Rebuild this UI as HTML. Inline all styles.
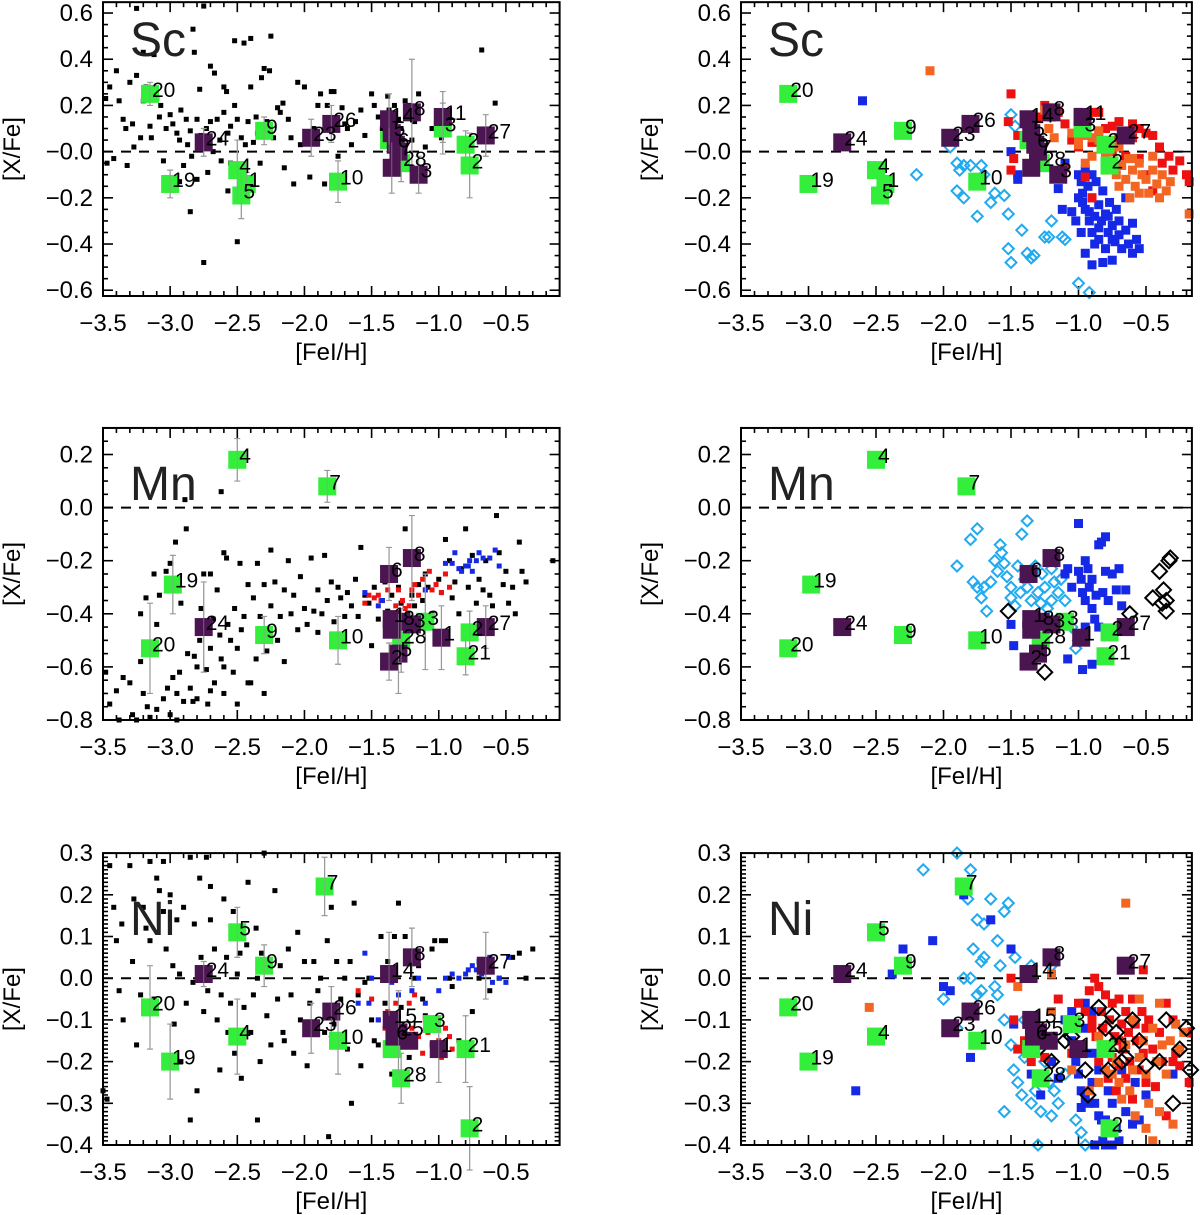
<!DOCTYPE html>
<html><head><meta charset="utf-8">
<style>
html,body{margin:0;padding:0;background:#fff;}
svg{display:block;font-family:"Liberation Sans",sans-serif;}
</style></head>
<body>
<svg id="fig" width="1200" height="1215" viewBox="0 0 1200 1215" xmlns="http://www.w3.org/2000/svg"></svg>
<script>
// ---------------- DATA ----------------
// Program stars: [label, [Fe/H], [X/Fe], type(g=green,p=purple), error]
const scStars=[["20",-3.15,0.25,"g",0.05],["19",-3.0,-0.14,"g",0.06],["4",-2.5,-0.08,"g",0.13],["1",-2.43,-0.14,"g",0.05],["5",-2.47,-0.19,"g",0.1],["9",-2.3,0.09,"g",0.06],["10",-1.75,-0.13,"g",0.09],["",-1.37,0.05,"g",0.05],["28",-1.28,-0.05,"g",0.08],["3",-0.97,0.1,"g",0.11],["2",-0.8,0.03,"g",0.06],["2",-0.77,-0.06,"g",0.14],
["24",-2.75,0.04,"p",0.06],["23",-1.95,0.06,"p",0.08],["26",-1.8,0.12,"p",0.08],["14",-1.37,0.14,"p",0.11],["5",-1.35,0.08,"p",0],["6",-1.32,0.03,"p",0],["7",-1.3,0.0,"p",0],["",-1.35,-0.07,"p",0.11],["8",-1.2,0.17,"p",0.23],["3",-1.15,-0.1,"p",0.08],["11",-0.97,0.15,"p",0.11],["27",-0.65,0.07,"p",0.09]];
const mnStars=[["4",-2.5,0.18,"g",0.08],["7",-1.83,0.08,"g",0.06],["19",-2.98,-0.29,"g",0.11],["20",-3.15,-0.53,"g",0.17],["9",-2.3,-0.48,"g",0.07],["10",-1.75,-0.5,"g",0.09],["28",-1.28,-0.5,"g",0.12],["3",-1.1,-0.43,"g",0.18],["21",-0.8,-0.56,"g",0.07],["2",-0.77,-0.47,"g",0.08],
["24",-2.75,-0.45,"p",0.17],["6",-1.37,-0.25,"p",0.1],["8",-1.2,-0.19,"p",0.16],["1",-1.35,-0.42,"p",0],["8",-1.28,-0.43,"p",0],["3",-1.2,-0.44,"p",0],["",-1.35,-0.46,"p",0],["5",-1.3,-0.55,"p",0.15],["2",-1.37,-0.58,"p",0.07],["1",-0.98,-0.49,"p",0.12],["27",-0.65,-0.45,"p",0.08]];
const niStars=[["7",-1.85,0.22,"g",0.07],["5",-2.5,0.11,"g",0.06],["9",-2.3,0.03,"g",0.05],["20",-3.15,-0.07,"g",0.1],["19",-3.0,-0.2,"g",0.09],["4",-2.5,-0.14,"g",0.09],["10",-1.75,-0.15,"g",0.08],["28",-1.28,-0.24,"g",0.06],["2",-0.77,-0.36,"g",0.1],["21",-0.8,-0.17,"g",0.08],["3",-1.05,-0.11,"g",0],["",-1.35,-0.17,"g",0],
["24",-2.75,0.01,"p",0.03],["23",-1.95,-0.12,"p",0.06],["26",-1.8,-0.08,"p",0.06],["8",-1.2,0.05,"p",0.07],["14",-1.37,0.01,"p",0.1],["15",-1.35,-0.1,"p",0],["25",-1.3,-0.13,"p",0.1],["6",-1.33,-0.14,"p",0],["",-1.22,-0.15,"p",0],["1",-1.0,-0.17,"p",0.08],["27",-0.65,0.03,"p",0.08]];

// Literature field stars (left panels, black dots)
const scField=[[-3.45,0.28],[-3.42,-0.03],[-3.4,0.35],[-3.38,0.22],[-3.35,0.14],[-3.33,0.1],[-3.32,-0.06],[-3.3,0.3],[-3.28,0.12],[-3.27,0.02],[-3.25,0.33],[-3.22,0.06],[-3.2,0.22],[-3.2,0.43],[-3.18,0.28],[-3.15,0.11],[-3.14,0.06],[-3.12,0.42],[-3.1,0.23],[-3.08,0.15],[-3.07,0.2],[-3.05,-0.04],[-3.03,0.1],[-3.0,0.16],[-2.98,0.12],[-2.95,0.08],[-2.93,0.05],[-2.92,0.18],[-2.9,-0.06],[-2.88,0.14],[-2.87,0.03],[-2.85,0.09],[-2.84,-0.02],[-2.83,0.53],[-2.82,0.43],[-2.8,0.14],[-2.8,-0.12],[-2.78,0.27],[-2.77,0.07],[-2.73,0.1],[-2.72,-0.09],[-2.7,0.37],[-2.7,0.13],[-2.68,0.0],[-2.67,0.34],[-2.65,0.14],[-2.63,0.05],[-2.62,-0.04],[-2.6,0.17],[-2.6,0.28],[-2.58,0.26],[-2.57,0.08],[-2.55,0.11],[-2.55,-0.05],[-2.52,0.48],[-2.52,0.2],[-2.5,0.14],[-2.47,0.06],[-2.45,0.47],[-2.44,0.03],[-2.42,0.13],[-2.4,0.49],[-2.4,0.28],[-2.38,0.04],[-2.36,0.15],[-2.35,0.08],[-2.33,-0.05],[-2.32,0.32],[-2.3,0.36],[-2.28,0.13],[-2.26,0.35],[-2.25,0.5],[-2.23,0.06],[-2.2,0.19],[-2.18,0.17],[-2.16,0.21],[-2.15,-0.07],[-2.12,0.14],[-2.1,0.06],[-2.08,-0.14],[-2.05,0.3],[-2.03,0.03],[-2.0,0.28],[-1.98,0.08],[-1.96,-0.11],[-1.93,0.1],[-1.9,0.2],[-1.88,0.25],[-1.85,-0.14],[-1.83,0.2],[-1.8,0.26],[-1.78,0.26],[-1.75,-0.02],[-1.72,0.19],[-1.7,0.12],[-1.68,0.1],[-1.65,0.03],[-1.62,0.13],[-1.58,0.18],[-1.55,0.07],[-1.5,0.25],[-1.48,0.2],[-1.45,0.15],[-1.42,0.1],[-1.4,0.06],[-1.38,0.24],[-1.37,0.18],[-1.33,0.2],[-1.3,0.14],[-1.28,0.1],[-1.25,0.22],[-1.22,0.2],[-1.2,0.05],[-1.18,0.13],[-1.15,0.25],[-1.1,0.02],[-1.05,0.1],[-0.98,0.06],[-0.68,0.44],[-0.58,0.21],[-2.85,-0.26],[-2.75,-0.48],[-2.5,-0.39],[-2.57,-0.17],[-2.93,-0.13],[-3.48,0.23],[-3.47,-0.05],[-3.25,0.62],[-2.75,0.63]];
const mnField=[[-3.48,-0.62],[-3.45,-0.74],[-3.4,-0.69],[-3.38,-0.8],[-3.35,-0.64],[-3.3,-0.66],[-3.28,-0.78],[-3.22,-0.4],[-3.22,-0.58],[-3.2,-0.7],[-3.18,-0.34],[-3.17,-0.75],[-3.15,-0.79],[-3.12,-0.25],[-3.1,-0.44],[-3.1,-0.76],[-3.08,-0.33],[-3.05,-0.72],[-3.03,-0.24],[-3.02,-0.68],[-3.0,-0.21],[-3.0,-0.78],[-2.98,-0.64],[-2.96,-0.13],[-2.95,-0.7],[-2.93,-0.62],[-2.92,-0.36],[-2.9,-0.73],[-2.88,-0.08],[-2.87,-0.55],[-2.85,-0.68],[-2.83,-0.73],[-2.82,-0.56],[-2.8,-0.6],[-2.78,-0.5],[-2.77,-0.38],[-2.75,-0.25],[-2.73,-0.61],[-2.72,-0.74],[-2.7,-0.53],[-2.7,-0.25],[-2.68,-0.42],[-2.67,-0.66],[-2.65,-0.31],[-2.63,-0.48],[-2.62,-0.57],[-2.6,-0.17],[-2.6,-0.7],[-2.58,-0.19],[-2.57,-0.44],[-2.55,-0.5],[-2.53,-0.62],[-2.52,-0.38],[-2.5,-0.53],[-2.48,-0.21],[-2.47,-0.46],[-2.45,-0.41],[-2.42,-0.29],[-2.4,-0.66],[-2.38,-0.34],[-2.36,-0.57],[-2.35,-0.21],[-2.33,-0.41],[-2.3,-0.7],[-2.3,-0.29],[-2.28,-0.54],[-2.25,-0.16],[-2.25,-0.37],[-2.22,-0.28],[-2.2,-0.5],[-2.18,-0.41],[-2.15,-0.31],[-2.15,-0.58],[-2.12,-0.2],[-2.1,-0.4],[-2.08,-0.33],[-2.05,-0.46],[-2.03,-0.26],[-2.0,-0.38],[-1.98,-0.44],[-1.95,-0.19],[-1.93,-0.39],[-1.9,-0.31],[-1.9,-0.47],[-1.87,-0.4],[-1.85,-0.18],[-1.83,-0.35],[-1.8,-0.28],[-1.78,-0.43],[-1.75,-0.3],[-1.73,-0.34],[-1.7,-0.41],[-1.68,-0.32],[-1.65,-0.37],[-1.62,-0.27],[-1.6,-0.41],[-1.58,-0.15],[-1.55,-0.33],[-1.52,-0.36],[-1.5,-0.52],[-1.48,-0.3],[-1.45,-0.42],[-1.42,-0.35],[-1.4,-0.28],[-1.38,-0.39],[-1.35,-0.33],[-1.33,-0.44],[-1.3,-0.3],[-1.28,-0.36],[-1.25,-0.08],[-1.23,-0.4],[-1.2,-0.33],[-1.18,-0.37],[-1.15,-0.29],[-1.12,-0.35],[-1.1,-0.25],[-1.08,-0.3],[-1.05,-0.4],[-1.0,-0.27],[-0.98,-0.32],[-0.95,-0.12],[-0.92,-0.2],[-0.9,-0.34],[-0.88,-0.28],[-0.85,-0.4],[-0.83,-0.23],[-0.8,-0.08],[-0.78,-0.3],[-0.75,-0.18],[-0.72,-0.36],[-0.7,-0.27],[-0.67,-0.31],[-0.65,-0.2],[-0.62,-0.33],[-0.6,-0.37],[-0.57,-0.03],[-0.55,-0.17],[-0.52,-0.29],[-0.5,-0.24],[-0.48,-0.36],[-0.45,-0.3],[-0.43,-0.4],[-0.4,-0.13],[-0.38,-0.24],[-0.35,-0.28],[-0.15,-0.2],[-2.89,0.03],[-2.62,0.06],[-3.25,-0.8],[-2.95,-0.8],[-2.5,-0.74],[-2.42,-0.66],[-2.6,-0.6],[-2.7,-0.69],[-2.8,-0.72]];
const niField=[[-3.45,0.27],[-3.42,0.17],[-3.4,0.09],[-3.38,-0.03],[-3.36,0.13],[-3.35,-0.1],[-3.3,0.27],[-3.28,0.04],[-3.27,0.19],[-3.25,-0.16],[-3.22,-0.04],[-3.2,0.17],[-3.18,0.12],[-3.15,0.09],[-3.12,-0.05],[-3.1,0.24],[-3.08,0.21],[-3.05,0.16],[-3.03,0.07],[-3.0,0.2],[-2.98,0.03],[-2.97,-0.11],[-2.95,0.14],[-2.93,0.01],[-2.92,-0.2],[-2.9,0.17],[-2.88,-0.06],[-2.85,0.29],[-2.83,-0.01],[-2.82,0.13],[-2.8,-0.27],[-2.78,0.24],[-2.77,0.05],[-2.75,-0.08],[-2.73,0.29],[-2.72,-0.03],[-2.7,0.22],[-2.7,0.14],[-2.67,0.07],[-2.65,-0.1],[-2.63,-0.22],[-2.62,-0.04],[-2.6,0.19],[-2.58,0.05],[-2.57,-0.13],[-2.55,-0.06],[-2.53,0.16],[-2.52,-0.18],[-2.5,0.01],[-2.48,0.06],[-2.47,-0.24],[-2.45,-0.07],[-2.43,0.08],[-2.42,0.23],[-2.4,-0.13],[-2.38,-0.04],[-2.36,0.12],[-2.35,0.0],[-2.33,-0.2],[-2.32,0.06],[-2.3,0.3],[-2.28,-0.09],[-2.26,0.04],[-2.25,-0.16],[-2.22,0.21],[-2.2,-0.05],[-2.18,0.03],[-2.16,-0.13],[-2.15,-0.15],[-2.12,0.07],[-2.1,-0.04],[-2.08,-0.18],[-2.05,0.11],[-2.03,-0.1],[-2.0,0.04],[-1.98,-0.21],[-1.96,-0.06],[-1.93,0.04],[-1.9,-0.03],[-1.88,0.0],[-1.85,-0.13],[-1.83,0.09],[-1.8,0.17],[-1.78,-0.11],[-1.76,0.04],[-1.73,-0.05],[-1.7,0.0],[-1.68,-0.17],[-1.66,0.04],[-1.63,0.18],[-1.6,-0.04],[-1.58,-0.21],[-1.55,-0.01],[-1.52,0.0],[-1.5,-0.1],[-1.48,-0.15],[-1.45,-0.16],[-1.43,0.1],[-1.4,-0.06],[-1.38,0.04],[-1.35,-0.23],[-1.33,0.1],[-1.3,0.18],[-1.28,-0.07],[-1.25,0.1],[-1.22,-0.19],[-1.2,0.05],[-1.18,0.0],[-1.15,0.03],[-1.12,-0.05],[-1.1,-0.09],[-1.05,0.07],[-1.03,0.09],[-0.98,0.09],[-0.95,0.09],[-0.92,0.0],[-0.9,-0.02],[-0.85,-0.15],[-0.8,-0.16],[-0.75,-0.08],[-0.7,0.0],[-0.62,-0.03],[-0.55,0.0],[-0.45,0.05],[-0.4,0.06],[-0.35,0.0],[-0.3,0.07],[-2.35,-0.34],[-2.05,-0.42],[-1.65,-0.3],[-1.82,-0.38],[-3.5,-0.27],[-3.47,-0.29],[-2.85,-0.34],[-3.15,0.28],[-3.05,0.28]];
const mnFieldRed=[[-1.55,-0.36],[-1.52,-0.33],[-1.48,-0.34],[-1.45,-0.33],[-1.43,-0.35],[-1.38,-0.31],[-1.35,-0.24],[-1.3,-0.31],[-1.27,-0.35],[-1.25,-0.38],[-1.2,-0.31],[-1.18,-0.29],[-1.15,-0.33],[-1.12,-0.27],[-1.1,-0.31],[-1.07,-0.24],[-1.05,-0.31],[-1.02,-0.29],[-0.98,-0.32],[-0.95,-0.25],[-0.92,-0.3],[-1.22,-0.37],[-1.32,-0.37]];
const mnFieldBlue=[[-1.55,-0.32],[-1.45,-0.37],[-1.42,-0.35],[-1.1,-0.31],[-0.95,-0.21],[-0.9,-0.21],[-0.85,-0.23],[-0.83,-0.24],[-0.8,-0.22],[-0.77,-0.2],[-0.75,-0.24],[-0.72,-0.2],[-0.7,-0.17],[-0.67,-0.19],[-0.62,-0.19],[-0.58,-0.16],[-0.55,-0.22],[-0.88,-0.17],[-0.78,-0.22]];
const niFieldRed=[[-1.6,-0.03],[-1.5,-0.05],[-1.45,-0.1],[-1.4,-0.12],[-1.38,-0.08],[-1.32,-0.06],[-1.28,-0.13],[-1.25,-0.16],[-1.2,-0.12],[-1.18,-0.04],[-1.15,-0.14],[-1.12,-0.18],[-1.1,-0.1],[-1.08,-0.13],[-1.05,-0.16],[-1.0,-0.15],[-0.98,-0.19],[-0.95,-0.12],[-0.92,-0.14],[-0.9,-0.17],[-1.3,-0.09],[-1.22,-0.06]];
const niFieldBlue=[[-1.55,0.06],[-1.5,0.0],[-1.35,-0.01],[-1.3,-0.04],[-1.2,-0.03],[-1.15,0.0],[-1.1,-0.06],[-1.0,-0.03],[-0.95,0.0],[-0.9,0.01],[-0.85,0.0],[-0.8,0.01],[-0.78,0.02],[-0.75,0.03],[-0.72,0.02],[-0.7,0.04],[-0.68,0.01],[-0.65,0.03],[-0.6,-0.01],[-0.55,0.0],[-0.5,-0.01],[-0.48,0.05],[-0.62,0.05],[-1.52,-0.06],[-1.6,-0.06],[-1.45,-0.1]];

// Comparison samples (right panels)
const scRed=[[-1.5,0.25],[-1.52,0.13],[-1.45,0.07],[-1.48,-0.03],[-1.5,-0.08],[-1.3,0.15],[-1.25,0.2],[-1.2,0.15],[-1.15,0.17],[-1.1,0.12],[-1.05,0.05],[-1.0,0.17],[-0.95,0.12],[-0.9,0.17],[-0.85,0.17],[-0.9,0.04],[-0.85,0.08],[-0.8,0.03],[-0.75,0.0],[-0.7,0.13],[-0.65,0.08],[-0.6,0.06],[-0.55,0.1],[-0.5,0.08],[-0.45,0.07],[-0.4,0.02],[-0.38,-0.05],[-0.33,-0.02],[-0.3,-0.08],[-0.25,-0.04],[-0.2,-0.1],[-0.18,-0.13],[-0.5,-0.1],[-0.45,-0.17],[-0.55,-0.03],[-0.65,-0.02],[-0.7,0.06],[-0.6,0.12],[-0.95,-0.11],[-0.9,-0.2],[-1.1,-0.07],[-1.0,0.02],[-0.75,0.11],[-0.8,0.1]];
const scOrange=[[-2.1,0.35],[-1.25,0.18],[-1.22,0.1],[-1.18,0.06],[-1.05,0.08],[-1.0,0.03],[-0.95,-0.05],[-0.9,-0.02],[-0.85,0.05],[-0.8,-0.02],[-0.8,-0.08],[-0.75,-0.05],[-0.72,-0.1],[-0.7,0.02],[-0.68,-0.06],[-0.65,-0.12],[-0.63,-0.03],[-0.6,-0.08],[-0.58,-0.15],[-0.55,-0.05],[-0.53,-0.1],[-0.5,-0.12],[-0.48,-0.18],[-0.45,-0.08],[-0.42,-0.14],[-0.4,-0.2],[-0.38,-0.1],[-0.35,-0.17],[-0.32,-0.13],[-0.7,-0.15],[-0.62,-0.2],[-0.55,-0.18],[-0.9,0.06],[-0.85,0.09],[-1.0,0.05],[-0.95,0.07],[-0.18,-0.27],[-0.45,-0.02],[-0.6,-0.03],[-0.78,0.0]];
const scBlue=[[-2.6,0.22],[-1.5,0.0],[-1.45,-0.1],[-1.45,-0.12],[-1.15,-0.16],[-1.1,-0.05],[-1.12,-0.25],[-1.0,-0.1],[-0.98,-0.13],[-0.97,-0.18],[-0.97,-0.22],[-0.95,-0.08],[-0.95,-0.25],[-0.93,-0.15],[-0.92,-0.3],[-0.9,-0.1],[-0.9,-0.2],[-0.9,-0.35],[-0.88,-0.28],[-0.87,-0.13],[-0.85,-0.23],[-0.85,-0.38],[-0.83,-0.3],[-0.82,-0.17],[-0.8,-0.42],[-0.8,-0.27],[-0.78,-0.35],[-0.77,-0.22],[-0.75,-0.32],[-0.75,-0.47],[-0.73,-0.39],[-0.72,-0.25],[-0.7,-0.36],[-0.7,-0.3],[-0.68,-0.42],[-0.65,-0.34],[-0.63,-0.4],[-0.6,-0.31],[-0.6,-0.44],[-0.57,-0.38],[-0.55,-0.42],[-0.65,-0.2],[-0.95,-0.44],[-0.9,-0.49],[-0.85,-0.33],[-0.82,-0.48],[-0.98,-0.35],[-1.02,-0.3],[-1.05,-0.26],[-0.88,-0.4],[-0.75,-0.38],[-1.0,-0.2],[-0.92,-0.26],[-0.78,-0.28]];
const scCyan=[[-2.2,-0.1],[-1.95,0.02],[-1.9,-0.05],[-1.88,-0.08],[-1.85,-0.06],[-1.8,-0.06],[-1.72,-0.06],[-1.9,-0.17],[-1.85,-0.2],[-1.75,-0.28],[-1.65,-0.22],[-1.55,-0.19],[-1.52,-0.27],[-1.52,-0.42],[-1.5,-0.48],[-1.42,-0.34],[-1.38,-0.44],[-1.35,-0.46],[-1.33,-0.45],[-1.25,-0.37],[-1.22,-0.37],[-1.2,-0.3],[-1.12,-0.37],[-1.1,-0.38],[-1.0,-0.57],[-0.92,-0.61],[-0.85,-0.67],[-1.5,0.16],[-1.47,0.11],[-1.62,-0.18],[-1.7,-0.1]];
const mnCyan=[[-1.9,-0.22],[-1.8,-0.12],[-1.75,-0.08],[-1.78,-0.28],[-1.75,-0.3],[-1.72,-0.34],[-1.7,-0.3],[-1.68,-0.39],[-1.65,-0.28],[-1.62,-0.2],[-1.6,-0.24],[-1.58,-0.14],[-1.57,-0.17],[-1.55,-0.21],[-1.53,-0.26],[-1.5,-0.3],[-1.5,-0.34],[-1.47,-0.37],[-1.45,-0.22],[-1.43,-0.32],[-1.42,-0.1],[-1.4,-0.27],[-1.38,-0.05],[-1.38,-0.3],[-1.35,-0.35],[-1.33,-0.24],[-1.32,-0.22],[-1.3,-0.32],[-1.28,-0.36],[-1.27,-0.25],[-1.25,-0.3],[-1.23,-0.38],[-1.2,-0.23],[-1.2,-0.35],[-1.18,-0.28],[-1.15,-0.32],[-1.13,-0.27],[-1.1,-0.35],[-1.05,-0.45],[-1.02,-0.53],[-1.0,-0.5]];
const mnBlue=[[-1.5,-0.44],[-1.48,-0.52],[-1.1,-0.25],[-1.08,-0.23],[-1.05,-0.3],[-1.0,-0.06],[-1.0,-0.24],[-0.98,-0.27],[-0.97,-0.32],[-0.95,-0.2],[-0.95,-0.35],[-0.93,-0.23],[-0.92,-0.3],[-0.9,-0.38],[-0.9,-0.27],[-0.88,-0.42],[-0.87,-0.33],[-0.85,-0.14],[-0.83,-0.13],[-0.82,-0.32],[-0.8,-0.11],[-0.8,-0.24],[-0.78,-0.35],[-0.75,-0.25],[-0.72,-0.31],[-0.7,-0.23],[-0.68,-0.37],[-0.65,-0.31],[-1.08,-0.57],[-0.97,-0.61],[-0.9,-0.59],[-0.85,-0.45],[-0.95,-0.45]];
const mnBlack=[[-1.52,-0.39],[-1.25,-0.62],[-0.62,-0.4],[-0.45,-0.34],[-0.4,-0.24],[-0.38,-0.36],[-0.37,-0.31],[-0.35,-0.35],[-0.33,-0.2],[-0.32,-0.19],[-0.35,-0.39],[-0.1,-0.28]];
const niCyan=[[-2.15,0.26],[-1.9,0.3],[-1.8,0.26],[-1.82,0.19],[-1.65,0.19],[-1.75,0.14],[-1.7,0.13],[-1.52,0.18],[-1.55,0.16],[-1.6,0.09],[-1.78,0.07],[-1.7,0.05],[-1.72,0.04],[-1.85,0.0],[-1.8,-0.0],[-1.58,0.03],[-1.47,0.05],[-1.35,0.03],[-1.2,0.03],[-1.72,-0.03],[-1.62,-0.02],[-1.6,-0.04],[-2.0,-0.05],[-1.9,-0.12],[-1.55,-0.1],[-1.5,-0.16],[-1.48,-0.22],[-1.45,-0.25],[-1.42,-0.28],[-1.4,-0.19],[-1.35,-0.3],[-1.32,-0.27],[-1.28,-0.32],[-1.25,-0.2],[-1.22,-0.25],[-1.2,-0.33],[-1.18,-0.27],[-1.15,-0.3],[-1.1,-0.23],[-1.02,-0.34],[-0.98,-0.37],[-0.95,-0.4],[-1.3,-0.4],[-1.55,-0.32],[-1.4,-0.1],[-1.75,-0.04]];
const niBlue=[[-2.65,-0.27],[-2.38,0.01],[-2.3,0.07],[-2.08,0.09],[-1.95,-0.03],[-1.85,0.2],[-1.5,0.07],[-1.8,-0.19],[-1.65,0.14],[-2.0,-0.02],[-1.48,-0.11],[-1.35,-0.23],[-1.28,-0.28],[-1.2,-0.2],[-1.1,-0.1],[-1.05,-0.15],[-1.02,-0.2],[-1.0,-0.23],[-0.98,-0.27],[-0.95,-0.12],[-0.95,-0.29],[-0.92,-0.3],[-0.9,-0.18],[-0.9,-0.25],[-0.88,-0.3],[-0.85,-0.33],[-0.85,-0.22],[-0.83,-0.34],[-0.8,-0.34],[-0.78,-0.27],[-0.75,-0.3],[-0.72,-0.36],[-0.7,-0.39],[-0.68,-0.22],[-0.65,-0.32],[-0.6,-0.35],[-0.58,-0.25],[-0.55,-0.34],[-0.5,-0.28],[-0.3,-0.23],[-0.82,-0.39],[-0.88,-0.4],[-1.05,-0.08],[-0.95,-0.06],[-0.9,-0.08],[-1.25,-0.16],[-1.15,-0.24],[-0.98,-0.31],[-0.75,-0.4],[-0.8,-0.4]];
const niRed=[[-1.5,0.0],[-1.48,-0.1],[-1.4,-0.15],[-1.45,-0.17],[-1.35,-0.2],[-1.25,-0.19],[-1.15,-0.05],[-1.05,-0.18],[-1.0,-0.06],[-0.95,-0.08],[-0.92,-0.03],[-0.9,-0.1],[-0.88,0.0],[-0.87,-0.14],[-0.85,-0.2],[-0.83,-0.08],[-0.82,-0.12],[-0.8,-0.04],[-0.8,-0.16],[-0.78,-0.24],[-0.77,-0.1],[-0.75,-0.06],[-0.75,-0.19],[-0.73,-0.14],[-0.72,-0.27],[-0.7,-0.05],[-0.7,-0.21],[-0.68,-0.11],[-0.67,-0.17],[-0.65,-0.08],[-0.65,-0.24],[-0.63,-0.13],[-0.62,-0.2],[-0.6,-0.05],[-0.6,-0.29],[-0.58,-0.11],[-0.57,-0.15],[-0.55,-0.22],[-0.53,-0.08],[-0.52,-0.18],[-0.5,-0.12],[-0.5,-0.25],[-0.48,-0.1],[-0.45,-0.17],[-0.43,-0.26],[-0.4,-0.13],[-0.38,-0.2],[-0.35,-0.06],[-0.35,-0.33],[-0.3,-0.1],[-0.28,-0.18],[-0.25,-0.21],[-0.2,-0.13],[-0.18,-0.25],[-0.3,-0.2],[-0.52,0.02],[-0.9,-0.12],[-0.85,-0.02],[-0.7,-0.15]];
const niOrange=[[-1.45,-0.02],[-1.2,0.01],[-0.65,0.18],[-1.2,-0.08],[-1.05,-0.22],[-0.92,-0.27],[-0.85,-0.25],[-0.8,-0.22],[-0.78,-0.17],[-0.75,-0.23],[-0.72,-0.2],[-0.7,-0.25],[-0.68,-0.29],[-0.65,-0.16],[-0.62,-0.27],[-0.6,-0.22],[-0.58,-0.33],[-0.55,-0.19],[-0.52,-0.15],[-0.5,-0.23],[-0.48,-0.3],[-0.45,-0.12],[-0.42,-0.2],[-0.4,-0.32],[-0.38,-0.16],[-0.35,-0.23],[-0.32,-0.15],[-0.28,-0.11],[-0.25,-0.17],[-0.22,-0.13],[-0.5,-0.36],[-0.3,-0.35],[-0.45,-0.39],[-0.85,-0.14],[-0.6,-0.1],[-0.55,-0.05],[-2.55,-0.07],[-0.4,-0.06]];
const niBlack=[[-1.3,-0.17],[-1.2,-0.2],[-1.1,-0.15],[-1.05,-0.14],[-0.95,-0.22],[-0.93,-0.28],[-0.85,-0.07],[-0.8,-0.12],[-0.75,-0.09],[-0.72,-0.13],[-0.7,-0.16],[-0.68,-0.2],[-0.65,-0.19],[-0.6,-0.1],[-0.55,-0.15],[-0.5,-0.21],[-0.4,-0.2],[-0.35,-0.1],[-0.3,-0.3],[-0.25,-0.17],[-0.2,-0.12],[-0.17,-0.22],[-0.78,-0.22]];

// Tick labels
const xTicks=[-3.5,-3.0,-2.5,-2.0,-1.5,-1.0,-0.5];
const xTickLabels=["\u22123.5","\u22123.0","\u22122.5","\u22122.0","\u22121.5","\u22121.0","\u22120.5"];
const scYTicks=[0.6,0.4,0.2,0,-0.2,-0.4,-0.6];
const scYTickLabels=["0.6","0.4","0.2","\u22120.0","\u22120.2","\u22120.4","\u22120.6"];
const mnYTicks=[0.2,0,-0.2,-0.4,-0.6,-0.8];
const mnYTickLabels=["0.2","0.0","\u22120.2","\u22120.4","\u22120.6","\u22120.8"];
const niYTicks=[0.3,0.2,0.1,0,-0.1,-0.2,-0.3,-0.4];
const niYTickLabels=["0.3","0.2","0.1","0.0","\u22120.1","\u22120.2","\u22120.3","\u22120.4"];

// ---------------- DRAWING ----------------
const NS="http://www.w3.org/2000/svg";
const svg=document.getElementById('fig');
function mk(tag,attrs,parent){const e=document.createElementNS(NS,tag);for(const k in attrs)e.setAttribute(k,attrs[k]);(parent||svg).appendChild(e);return e;}

function panel(cfg){
  const g=mk('g',{});
  
  
  const sx=v=>cfg.x0+(v-cfg.xa)*cfg.xs;
  const sy=v=>cfg.y0-(v-cfg.ya)*cfg.ys;
  const L=cfg.x0, R=cfg.x0+(cfg.xb-cfg.xa)*cfg.xs, T=sy(cfg.yb), B=sy(cfg.ya);
  const ax=mk('g',{stroke:'#000','stroke-width':1.6},g);
  
  
  for(let i=0;;i++){const v=-3.5+i*0.1; if(v>cfg.xb+1e-9)break; const px=sx(v); const major=Math.abs(Math.round(v*2)-v*2)<1e-6; const l=major?10:5;
    mk('line',{x1:px,y1:B,x2:px,y2:B-l},ax);mk('line',{x1:px,y1:T,x2:px,y2:T+l},ax);}
  const n=Math.round((cfg.yb-cfg.ya)/cfg.ym)+2;
  const start=Math.ceil(cfg.ya/cfg.ym-1e-6)*cfg.ym;
  for(let i=0;i<n;i++){const v=start+i*cfg.ym; if(v>cfg.yb+1e-9)break; const py=sy(v); const r=v/cfg.yM; const major=Math.abs(Math.round(r)-r)<1e-6; const l=major?10:5;
    mk('line',{x1:L,y1:py,x2:L+l,y2:py},ax);mk('line',{x1:R,y1:py,x2:R-l,y2:py},ax);}
  const z=mk('line',{x1:L,y1:sy(0),x2:R,y2:sy(0),stroke:'#000','stroke-width':2,'stroke-dasharray':'10,8'},g);
  
  
  (cfg.series||[]).forEach(s=>{
    const sg=mk('g',{},g);
    
    
    s.data.forEach(p=>{
      const px=sx(p[0]),py=sy(p[1]);
      if(py<T-2||py>B+2||px>R+2)return;
      if(s.shape==='sq'){const h=s.size/2;const r=mk('rect',{x:px-h,y:py-h,width:s.size,height:s.size,fill:s.color},sg);
        
        }
      else{const h=s.size/2;const d=mk('polygon',{points:`${px},${py-h} ${px+h},${py} ${px},${py+h} ${px-h},${py}`,fill:'none',stroke:s.color,'stroke-width':s.sw},sg);
        
        }
    });
  });
  const pg=mk('g',{},g);
  
  
  if(cfg.err){cfg.stars.forEach(s=>{ if(!s[4])return; const px=sx(s[1]);
    const e=mk('path',{d:`M${px},${sy(s[2]+s[4])}V${sy(s[2]-s[4])}M${px-3},${sy(s[2]+s[4])}h6M${px-3},${sy(s[2]-s[4])}h6`,stroke:'#999','stroke-width':1.2,fill:'none'},pg);
    
    });}
  cfg.stars.forEach(s=>{const px=sx(s[1]),py=sy(s[2]);
    const r=mk('rect',{x:px-9,y:py-9,width:18,height:18,fill:s[3]==='g'?'#33ee3a':'#4a1550'},pg);
    
    });
  if(cfg.err){cfg.stars.forEach(s=>{ if(!s[4])return; const px=sx(s[1]);
    const e=mk('line',{x1:px,y1:sy(s[2]+s[4]),x2:px,y2:sy(s[2]-s[4]),stroke:'#999','stroke-width':1,'stroke-opacity':0.6},pg);
    
    });}
  cfg.stars.forEach(s=>{ if(!s[0])return; const px=sx(s[1]),py=sy(s[2]);
    const t=mk('text',{x:px+2,y:py+3,'font-size':21,fill:'#000'},pg); t.textContent=s[0];
    
    });
  const f=mk('rect',{x:L,y:T,width:R-L,height:B-T,fill:'none',stroke:'#000','stroke-width':2},g);
  
  
  xTicks.forEach((v,i)=>{const t=mk('text',{x:sx(v),y:B+35,'font-size':24,'text-anchor':'middle'},g);t.textContent=xTickLabels[i];
    
    });
  cfg.yt.forEach((v,i)=>{const t=mk('text',{x:L-10,y:sy(v)+8,'font-size':24,'text-anchor':'end'},g);t.textContent=cfg.ytl[i];
    
    });
  const xt=mk('text',{x:(L+R)/2,y:B+64,'font-size':24,'text-anchor':'middle'},g);xt.textContent='[FeI/H]';
  
  
  const yc=(T+B)/2, yx=L-83;
  const yt=mk('text',{x:yx,y:yc,'font-size':24,'text-anchor':'middle',transform:`rotate(-90 ${yx} ${yc})`},g);yt.textContent='[X/Fe]';
  
  
  const el=mk('text',{x:L+27,y:T+cfg.elY,'font-size':48,fill:'#222'},g);el.textContent=cfg.el;
  
  
}

const Lx={x0:103,xa:-3.5,xs:134.3,xb:-0.1};
const Rx={x0:741,xa:-3.5,xs:135,xb:-0.16};
const rowSc={y0:296,ya:-0.625,ys:231,yb:0.647,ym:0.05,yM:0.2,yt:scYTicks,ytl:scYTickLabels,el:'Sc',elY:54,stars:scStars};
const rowMn={y0:720,ya:-0.8,ys:265.5,yb:0.3,ym:0.05,yM:0.2,yt:mnYTicks,ytl:mnYTickLabels,el:'Mn',elY:72,stars:mnStars};
const rowNi={y0:1145,ya:-0.4,ys:417,yb:0.3,ym:0.01,yM:0.1,yt:niYTicks,ytl:niYTickLabels,el:'Ni',elY:82,stars:niStars};

const blk=d=>({name:'literature-field-stars',data:d,shape:'sq',size:5,color:'#000'});
panel(Object.assign({name:'panel-sc-left',err:true,series:[blk(scField)]},Lx,rowSc));
panel(Object.assign({name:'panel-sc-right',series:[
  {name:'cyan-diamonds',data:scCyan,shape:'di',size:11,sw:2,color:'#22aaee'},
  {name:'blue-squares',data:scBlue,shape:'sq',size:9,color:'#1428e6'},
  {name:'red-squares',data:scRed,shape:'sq',size:9,color:'#ee1111'},
  {name:'orange-squares',data:scOrange,shape:'sq',size:9,color:'#f26522'}]},Rx,rowSc));
panel(Object.assign({name:'panel-mn-left',err:true,series:[blk(mnField),
  {name:'red-dots',data:mnFieldRed,shape:'sq',size:5,color:'#ee1111'},
  {name:'blue-dots',data:mnFieldBlue,shape:'sq',size:5,color:'#1428e6'}]},Lx,rowMn));
panel(Object.assign({name:'panel-mn-right',series:[
  {name:'cyan-diamonds',data:mnCyan,shape:'di',size:11,sw:2,color:'#22aaee'},
  {name:'blue-squares',data:mnBlue,shape:'sq',size:9,color:'#1428e6'},
  {name:'black-diamonds',data:mnBlack,shape:'di',size:15,sw:2,color:'#000'}]},Rx,rowMn));
panel(Object.assign({name:'panel-ni-left',err:true,series:[blk(niField),
  {name:'red-dots',data:niFieldRed,shape:'sq',size:5,color:'#ee1111'},
  {name:'blue-dots',data:niFieldBlue,shape:'sq',size:5,color:'#1428e6'}]},Lx,rowNi));
panel(Object.assign({name:'panel-ni-right',series:[
  {name:'cyan-diamonds',data:niCyan,shape:'di',size:11,sw:2,color:'#22aaee'},
  {name:'blue-squares',data:niBlue,shape:'sq',size:9,color:'#1428e6'},
  {name:'red-squares',data:niRed,shape:'sq',size:9,color:'#ee1111'},
  {name:'orange-squares',data:niOrange,shape:'sq',size:9,color:'#f26522'},
  {name:'black-diamonds',data:niBlack,shape:'di',size:15,sw:2,color:'#000'}]},Rx,rowNi));
</script>
</body></html>
